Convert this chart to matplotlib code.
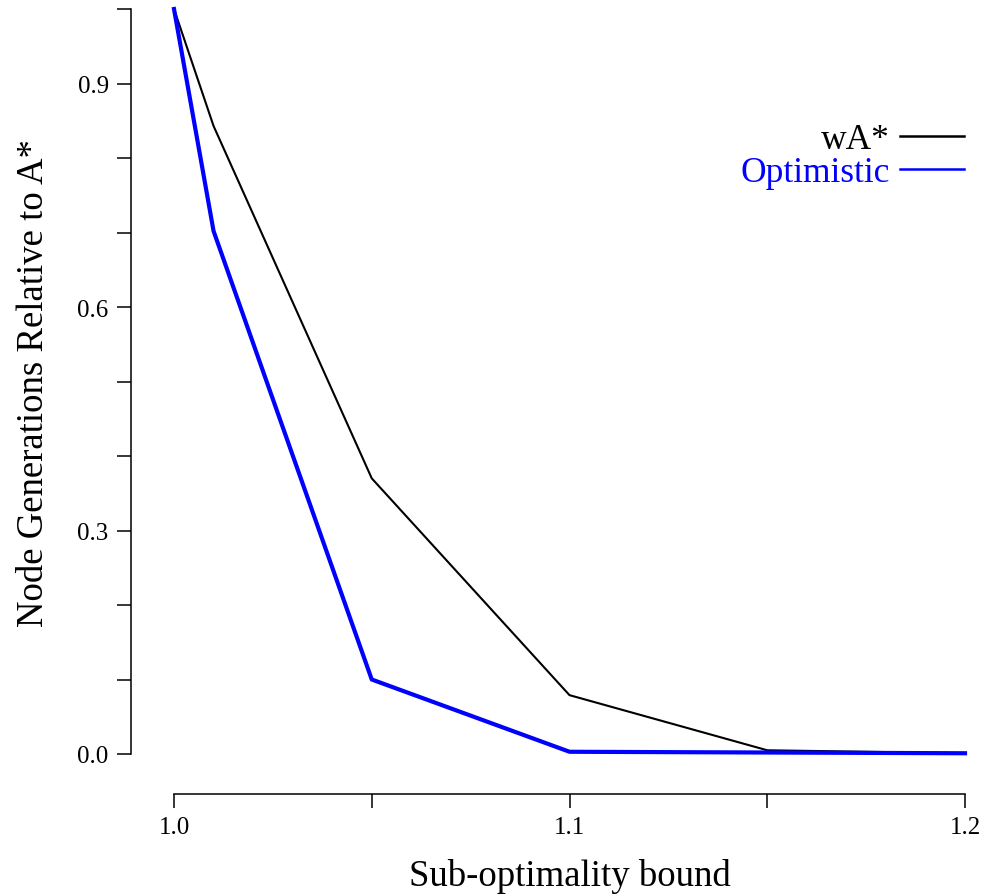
#!/usr/bin/env python
"""Node generations relative to A* vs. sub-optimality bound."""
import matplotlib
matplotlib.use("Agg")
import matplotlib.pyplot as plt
from matplotlib.lines import Line2D

# data
BOUNDS = [1.0, 1.01, 1.05, 1.1, 1.15, 1.2]
WASTAR = [1.0, 0.843, 0.370, 0.079, 0.005, 0.001]
OPTIMISTIC = [1.0, 0.702, 0.100, 0.003, 0.002, 0.001]

X_TICKS = [1.0, 1.05, 1.1, 1.15, 1.2]
X_LABELS = ["1.0", "", "1.1", "", "1.2"]
Y_TICKS = [0.0, 0.1, 0.2, 0.3, 0.4, 0.5, 0.6, 0.7, 0.8, 0.9, 1.0]
Y_LABELS = ["0.0", "", "", "0.3", "", "", "0.6", "", "", "0.9", ""]

W, H = 986, 895
plt.rcParams["font.family"] = ["Liberation Serif", "DejaVu Serif"]

fig = plt.figure(figsize=(W / 100, H / 100), dpi=100)
# axes box = data area (1.0..1.2, 0..1)
ax = fig.add_axes([174 / W, (H - 755) / H, (965 - 174) / W, (755 - 10) / H])
ax.set_xlim(1.0, 1.2)
ax.set_ylim(0.0, 1.0)

ax.plot(BOUNDS, WASTAR, color="black", linewidth=1.5, clip_on=False)
ax.plot(BOUNDS, OPTIMISTIC, color="#0000ff", linewidth=3.0, clip_on=False)

for side in ("top", "right"):
    ax.spines[side].set_visible(False)
ax.spines["left"].set_position(("outward", 31))
ax.spines["bottom"].set_position(("outward", 29))
ax.spines["left"].set_linewidth(1.1)
ax.spines["bottom"].set_linewidth(1.1)

ax.set_xticks(X_TICKS)
ax.set_xticklabels(X_LABELS)
ax.set_yticks(Y_TICKS)
ax.set_yticklabels(Y_LABELS)
ax.tick_params(axis="both", length=10, width=1.1, labelsize=18, pad=6)

ax.set_xlabel("Sub-optimality bound", fontsize=26.5, labelpad=14)
fig.text(34 / W, 1 - 383 / H, "Node Generations Relative to A*", fontsize=26.5,
         rotation=90, ha="center", va="center")

handles = [Line2D([], [], color="black", linewidth=1.8),
           Line2D([], [], color="#0000ff", linewidth=1.8)]
ax.legend(handles, ["wA*", "Optimistic"], markerfirst=False, frameon=False,
          fontsize=25.5, labelcolor=["black", "#0000ff"], handlelength=1.8,
          handletextpad=0.3, labelspacing=0.0, borderaxespad=0,
          loc="upper right", bbox_to_anchor=(978 / W, 1 - 110 / H),
          bbox_transform=fig.transFigure)

fig.savefig("out.png", dpi=100)
